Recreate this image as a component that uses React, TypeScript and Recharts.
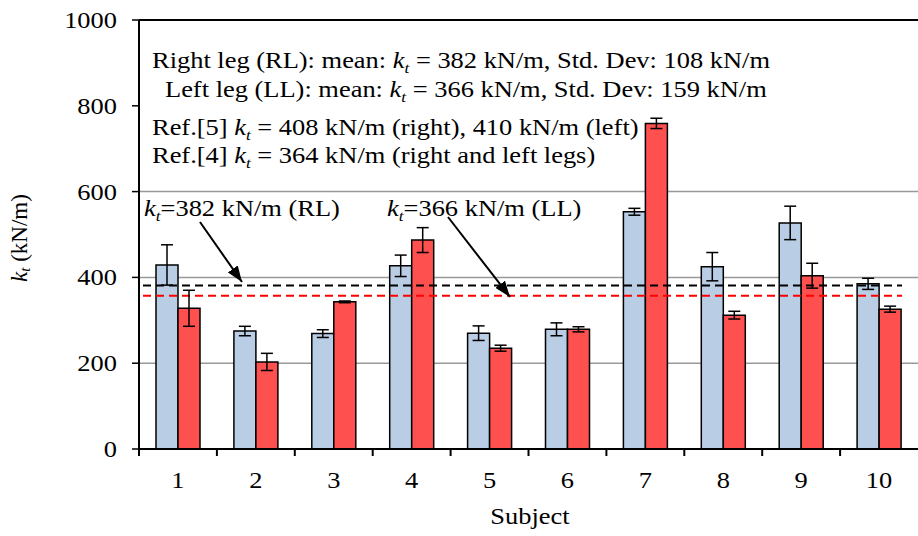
import React from 'react'
import { BarChart, Bar, XAxis, YAxis, CartesianGrid, ReferenceLine, ErrorBar } from 'recharts'

// stiffness per subject (kN/m)
const subjects = ['1', '2', '3', '4', '5', '6', '7', '8', '9', '10']
const rightLeg = [429, 275, 269, 427, 270, 279, 553, 425, 527, 385]
const rightErr = [47, 11, 9, 25, 17, 15, 8, 33, 39, 13]
const leftLeg = [328, 203, 343, 487, 235, 279, 759, 312, 404, 326]
const leftErr = [42, 20, 2, 29, 7, 6, 12, 9, 29, 7]
const yTicks = [0, 200, 400, 600, 800, 1000]
const gridValues = [200, 400, 600]
const meanRL = 381
const meanLL = 357

const data = subjects.map((s, i) => ({
  subject: s,
  rl: rightLeg[i],
  rlErr: rightErr[i],
  ll: leftLeg[i],
  llErr: leftErr[i],
}))

const serif = { fontFamily: 'Liberation Serif' }
const W = 918
const H = 536
const PLOT_LEFT = 139
const PLOT_BOTTOM = 449
const BAND = (W - PLOT_LEFT) / subjects.length
const FS = 23
const SX = 1.15 // the original figure is a bit stretched sideways

// text stretched horizontally around its anchor point
const SText = ({ x, y, anchor = 'start', children }: any) => (
  <g transform={`translate(${x},${y}) scale(${SX},1)`}>
    <text x={0} y={0} textAnchor={anchor} fontSize={FS} fill="#000" style={serif}>
      {children}
    </text>
  </g>
)

const XTick = (props: any) => {
  const { x, payload } = props
  const bx = x - BAND / 2
  return (
    <g>
      <line x1={bx} y1={PLOT_BOTTOM} x2={bx} y2={PLOT_BOTTOM + 7} stroke="#000" strokeWidth={2} />
      <SText x={x} y={488} anchor="middle">{payload.value}</SText>
    </g>
  )
}

const YTick = (props: any) => {
  const { y, payload } = props
  return <SText x={117} y={y + 8} anchor="end">{payload.value}</SText>
}

// dashed mean lines stop a little short of the plot edges
const dashedShape = (color: string) => (props: any) => {
  const { x1, x2, y1 } = props
  return <line x1={x1 + 4} x2={x2 - 16} y1={y1} y2={y1} stroke={color} strokeWidth={2} strokeDasharray="8 5" />
}

const Kt = () => (
  <>
    <tspan fontStyle="italic">k</tspan>
    <tspan fontStyle="italic" fontSize={FS * 0.65} dy={5}>t</tspan>
  </>
)

export default function App() {
  return (
    <div style={{ position: 'absolute', left: 0, top: 0, width: W, height: H, background: '#fff' }}>
      <BarChart
        width={W}
        height={H}
        data={data}
        margin={{ top: 20, right: 0, left: 59, bottom: 27 }}
        barGap={0}
        barSize={22}
      >
        <CartesianGrid vertical={false} horizontalValues={gridValues} stroke="#999" strokeWidth={1.5} />
        <XAxis
          dataKey="subject"
          height={60}
          tick={<XTick />}
          tickLine={false}
          axisLine={{ stroke: '#000', strokeWidth: 2 }}
          interval={0}
        />
        <YAxis
          width={80}
          domain={[0, 1000]}
          ticks={yTicks}
          tick={<YTick />}
          tickSize={7}
          tickLine={{ stroke: '#000', strokeWidth: 1.5 }}
          axisLine={{ stroke: '#000', strokeWidth: 2 }}
        />
        <ReferenceLine y={1000} stroke="#000" strokeWidth={2} />
        <ReferenceLine y={meanRL} shape={dashedShape('#000')} />
        <ReferenceLine y={meanLL} shape={dashedShape('#ff0000')} />
        <Bar dataKey="rl" fill="#b9cde5" stroke="#000" strokeWidth={1.5} isAnimationActive={false}>
          <ErrorBar dataKey="rlErr" width={6} stroke="#000" strokeWidth={1.5} />
        </Bar>
        <Bar dataKey="ll" fill="#ff5050" stroke="#000" strokeWidth={1.5} isAnimationActive={false}>
          <ErrorBar dataKey="llErr" width={6} stroke="#000" strokeWidth={1.5} />
        </Bar>
      </BarChart>

      <svg width={W} height={H} style={{ position: 'absolute', left: 0, top: 0, pointerEvents: 'none' }}>
        <defs>
          <marker id="arrow" markerUnits="userSpaceOnUse" markerWidth={16} markerHeight={12} refX={16} refY={6} orient="auto">
            <path d="M0,0 L16,6 L0,12 z" fill="#000" />
          </marker>
        </defs>

        <SText x={152} y={68}>
          Right leg (RL): mean: <Kt /><tspan dy={-5}> = 382 kN/m, Std. Dev: 108 kN/m</tspan>
        </SText>
        <SText x={165} y={97}>
          Left leg (LL): mean: <Kt /><tspan dy={-5}> = 366 kN/m, Std. Dev: 159 kN/m</tspan>
        </SText>
        <SText x={152} y={135}>
          Ref.[5] <Kt /><tspan dy={-5}> = 408 kN/m (right), 410 kN/m (left)</tspan>
        </SText>
        <SText x={152} y={163}>
          Ref.[4] <Kt /><tspan dy={-5}> = 364 kN/m (right and left legs)</tspan>
        </SText>

        <SText x={144} y={216}>
          <Kt /><tspan dy={-5}>=382 kN/m (RL)</tspan>
        </SText>
        <SText x={387} y={216}>
          <Kt /><tspan dy={-5}>=366 kN/m (LL)</tspan>
        </SText>
        <line x1={200} y1={222} x2={242} y2={282} stroke="#000" strokeWidth={2} markerEnd="url(#arrow)" />
        <line x1={448} y1={217} x2={510} y2={297} stroke="#000" strokeWidth={2} markerEnd="url(#arrow)" />

        <text x={22} y={238} fontSize={FS} textAnchor="middle" transform="rotate(-90 22 238)" dominantBaseline="middle" style={serif}>
          <Kt /><tspan dy={-5}>  (kN/m)</tspan>
        </text>
        <SText x={530} y={524} anchor="middle">Subject</SText>
      </svg>
    </div>
  )
}
